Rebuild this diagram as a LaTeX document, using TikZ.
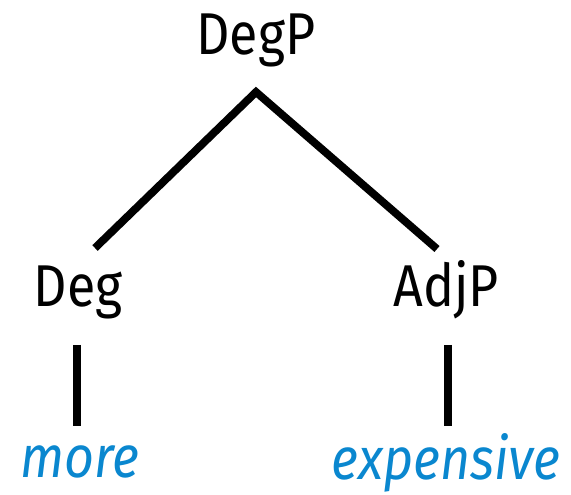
\documentclass[tikz,border=0pt]{standalone}
\usepackage{fontspec}
\setmainfont[FakeStretch=0.88]{Fira Sans}
\usetikzlibrary{positioning}
\definecolor{leafblue}{HTML}{0A87CF}

\begin{document}
\begin{tikzpicture}[x=1pt, y=1pt,
    cat/.style={inner sep=0pt, anchor=base, font=\fontsize{59}{65}\selectfont},
    leaf/.style={cat, text=leafblue, font=\fontsize{59}{65}\selectfont\itshape},
    branch/.style={line width=7.8pt}]
  \useasboundingbox (0,0) rectangle (571,495);
  % labels
  \node[cat] (degp) at (256,440) {DegP};
  \node[cat] (deg) at (78,188) {Deg};
  \node[cat] (adjp) at (446,188) {AdjP};
  \node[leaf] (more) at (80,17) {more};
  \node[leaf] (expensive) at (446,15) {expensive};
  % branches
  \coordinate (apex) at ([yshift=-37pt]degp.base);
  \coordinate (degtip) at ([xshift=17pt,yshift=59pt]deg.base);
  \coordinate (adjptip) at ([xshift=-9pt,yshift=58pt]adjp.base);
  \draw[branch] (degtip) -- (apex) -- (adjptip);
  \draw[branch] ([xshift=-1pt,yshift=-38pt]deg.base) -- ([xshift=-3pt,yshift=52pt]more.base);
  \draw[branch] ([xshift=2pt,yshift=-38pt]adjp.base) -- ([xshift=2pt,yshift=54pt]expensive.base);
\end{tikzpicture}
\end{document}
